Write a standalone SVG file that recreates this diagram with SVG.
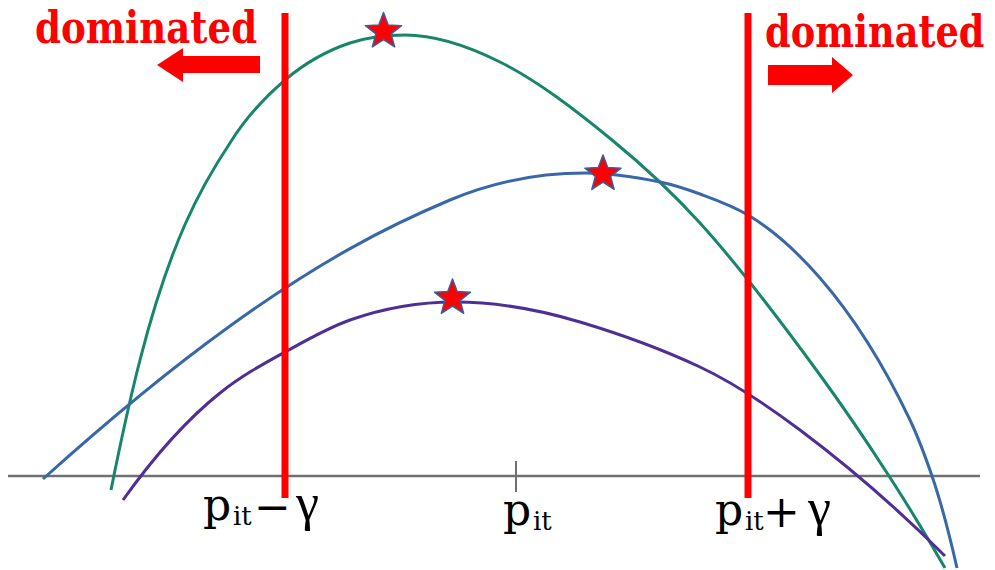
<svg xmlns="http://www.w3.org/2000/svg" width="995" height="570" viewBox="0 0 995 570">
<style>
.curve{fill:none;stroke-width:3;stroke-linecap:butt}
.bound{stroke:#ff0000;stroke-width:7}
.dom{font-family:"DejaVu Serif","Liberation Serif",serif;font-weight:bold;font-size:44px;fill:#ff0000}
.lab{font-family:"DejaVu Serif","Liberation Serif",serif;fill:#000}
.gam{font-family:"Liberation Serif","DejaVu Serif",serif;fill:#000;font-size:52px}
.star{fill:#ff0000;stroke:#3a5fa0;stroke-width:1.5;stroke-linejoin:round}
</style>
<defs>
<polygon id="starShape" points="0,-19 4.70,-6.47 18.07,-5.87 7.61,2.47 11.17,15.37 0,8 -11.17,15.37 -7.61,2.47 -18.07,-5.87 -4.70,-6.47"/>
</defs>
<rect width="995" height="570" fill="#ffffff"/>
<g id="axis">
<line x1="8" y1="476" x2="980" y2="476" stroke="#707070" stroke-width="2.5"/>
<line x1="516" y1="461" x2="516" y2="492" stroke="#707070" stroke-width="2"/>
</g>
<g id="curves">
<path id="green" class="curve" stroke="#17866a" d="M111,490 C120.67,441.7 130.33,397.7 140,360 C170,243 200,188 230,143 C248.33,113.7 266.67,95.6 285,80 C306.67,61.6 328.33,50.15 350,43 C368.33,36.95 386.67,35 405,35 C436.67,35 468.33,46.2 500,62 C537.33,80.7 574.67,109.4 612,140 C641.33,164.05 670.67,190.7 700,223 C740,267 780,320.2 820,375 C843,406.5 866,440.35 889,476 C907.67,504.9 926.33,535.3 945,568"/>
<path id="blue" class="curve" stroke="#3868a8" d="M43,479 C105.33,422.9 167.67,370.9 230,326 C270,297.2 310,271 350,248.6 C383.33,229.9 416.67,214 450,200 C495,181.1 540,173 585,173 C610,173 635,177 660,182 C673.33,184.7 686.67,189.1 700,194 C716,199.9 732,205.4 748,215 C772,229.4 796,250.4 820,278 C850,312.5 880,357 910,420 C917.33,435.4 924.67,454.7 932,476 C940.33,500.2 948.67,531.3 957,568"/>
<path id="purple" class="curve" stroke="#4e2f96" d="M123,500 C155.33,454.7 187.67,418.9 220,393 C241.67,375.7 263.33,363.9 285,352 C306.67,340.1 328.33,327.6 350,320 C385,307.75 420,302 455,302 C496.67,302 538.33,309.5 580,322 C620,334 660,348.2 700,367 C733.33,382.7 766.67,405 800,430 C848.33,466.25 896.67,507.7 945,556"/>
</g>
<g id="bounds">
<line class="bound" x1="285" y1="13" x2="285" y2="498"/>
<line class="bound" x1="748" y1="13" x2="748" y2="498"/>
</g>
<g id="stars">
<use href="#starShape" class="star" transform="translate(383.5,31.5)"/>
<use href="#starShape" class="star" transform="translate(603,174)"/>
<use href="#starShape" class="star" transform="translate(452.5,298)"/>
</g>
<g id="dominated-left">
<text class="dom" transform="translate(35,43) scale(0.845,1)">dominated</text>
<polygon fill="#ff0000" points="157,65 183,48 183,56 260,56 260,73 183,73 183,82"/>
</g>
<g id="dominated-right">
<text class="dom" transform="translate(765,47) scale(0.835,1)">dominated</text>
<polygon fill="#ff0000" points="768,65 832,65 832,57 853,75 832,93 832,85 768,85"/>
</g>
<g id="label-minus">
<text class="lab" x="203" y="520" font-size="44">p</text>
<text class="lab" x="233" y="525" font-size="26">it</text>
<text class="lab" x="254" y="522" font-size="44">−</text>
<text class="gam" x="296" y="520">γ</text>
</g>
<g id="label-center">
<text class="lab" x="503" y="525" font-size="44">p</text>
<text class="lab" x="533" y="530" font-size="26">it</text>
</g>
<g id="label-plus">
<text class="lab" x="715" y="525" font-size="44">p</text>
<text class="lab" x="745" y="530" font-size="26">it</text>
<text class="lab" x="763" y="527" font-size="44">+</text>
<text class="gam" x="808" y="525">γ</text>
</g>
</svg>
